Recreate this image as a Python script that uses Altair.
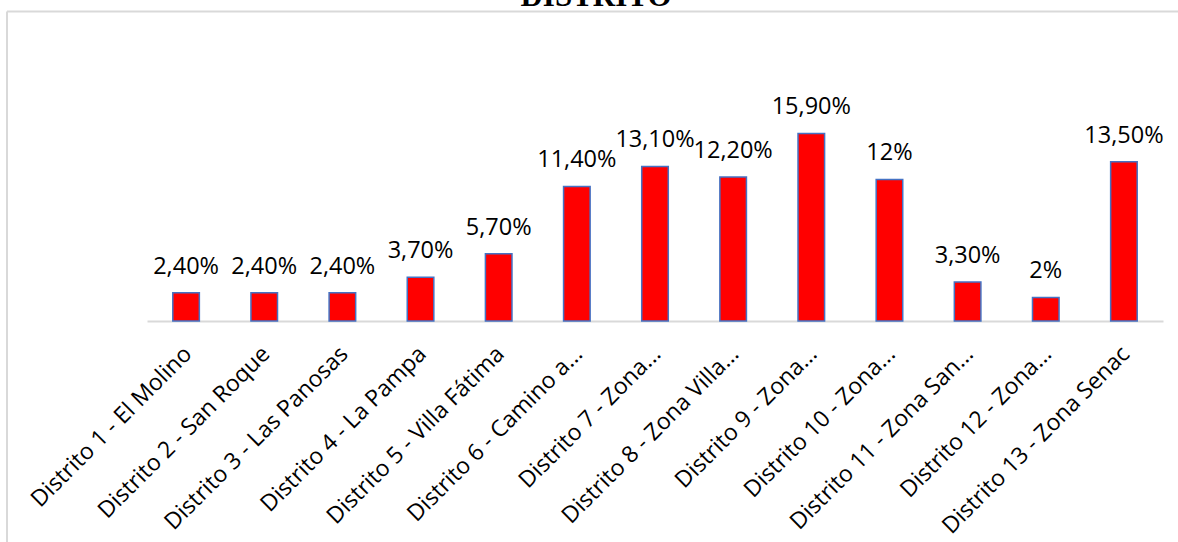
import altair as alt
import pandas as pd

categories = [
    "Distrito 1 - El Molino",
    "Distrito 2 - San Roque",
    "Distrito 3 - Las Panosas",
    "Distrito 4 - La Pampa",
    "Distrito 5 - Villa Fátima",
    "Distrito 6 - Camino a...",
    "Distrito 7 - Zona...",
    "Distrito 8 - Zona Villa...",
    "Distrito 9 - Zona...",
    "Distrito 10 - Zona...",
    "Distrito 11 - Zona San...",
    "Distrito 12 - Zona...",
    "Distrito 13 - Zona Senac",
]
values = [2.4, 2.4, 2.4, 3.7, 5.7, 11.4, 13.1, 12.2, 15.9, 12.0, 3.3, 2.0, 13.5]
value_labels = ["2,40%", "2,40%", "2,40%", "3,70%", "5,70%", "11,40%", "13,10%",
                "12,20%", "15,90%", "12%", "3,30%", "2%", "13,50%"]
title_text = "DISTRITO"

df = pd.DataFrame({"cat": categories, "val": values, "lab": value_labels})

PAD_L, PAD_T, PAD_R, PAD_B = 147, 85, 15, 221
W = 1178 - PAD_L - PAD_R
H = 542 - PAD_T - PAD_B

FONT = "Open Sans"

x = alt.X(
    "cat:N",
    sort=None,
    scale=alt.Scale(paddingInner=0.66, paddingOuter=0.33),
    axis=alt.Axis(
        title=None,
        labelAngle=-45,
        labelAlign="right",
        labelBaseline="middle",
        labelFont=FONT,
        labelFontSize=23,
        labelColor="#000000",
        labelLimit=0,
        labelPadding=29,
        labelOffset=2,
        ticks=False,
        domainColor="#d9d9d9",
        domainWidth=2,
        grid=False,
    ),
)
y = alt.Y("val:Q", scale=alt.Scale(domain=[0, 20], nice=False), axis=None)

base = alt.Chart(df)

bars = base.mark_bar(color="#ff0000", stroke="#4472c4", strokeWidth=1.5).encode(x=x, y=y)

texts = base.mark_text(
    font=FONT, fontSize=23.5, color="#000000", baseline="alphabetic", dy=-19
).encode(x=alt.X("cat:N", sort=None), y=y, text="lab:N")

frame_top = alt.Chart(pd.DataFrame({"a": [0]})).mark_rule(
    color="#d9d9d9", strokeWidth=2
).encode(x=alt.value(7 - PAD_L), x2=alt.value(1178 - PAD_L), y=alt.value(11.5 - PAD_T))
frame_left = alt.Chart(pd.DataFrame({"a": [0]})).mark_rule(
    color="#d9d9d9", strokeWidth=2
).encode(x=alt.value(7 - PAD_L), y=alt.value(11.5 - PAD_T), y2=alt.value(542 - PAD_T + 5))

title = alt.Chart(pd.DataFrame({"t": [title_text]})).mark_text(
    font="Liberation Serif", fontSize=31, fontWeight="bold", color="#000000",
    baseline="alphabetic", align="center"
).encode(x=alt.value(596 - PAD_L), y=alt.value(6 - PAD_T), text="t:N")

chart = alt.layer(frame_top, frame_left, bars, texts, title).properties(
    width=W,
    height=H,
    autosize=alt.AutoSizeParams(type="none"),
    padding={"left": PAD_L, "top": PAD_T, "right": PAD_R, "bottom": PAD_B},
    background="#ffffff",
).configure_view(stroke=None)

chart.save("out.html", embed_options={"renderer": "svg", "actions": False})
